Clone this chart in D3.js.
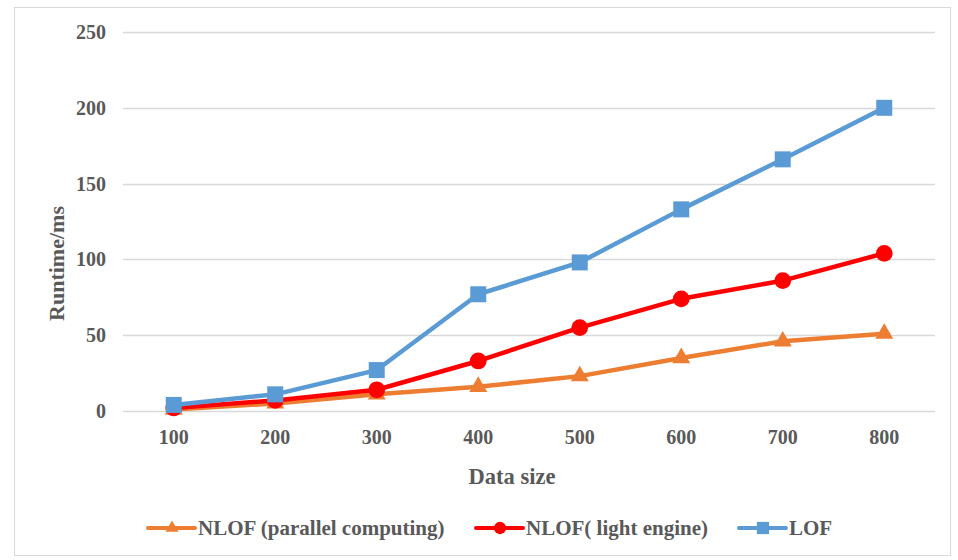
<!DOCTYPE html>
<html><head><meta charset="utf-8">
<script src="https://cdn.jsdelivr.net/npm/d3@7"></script>
<style>body{margin:0;background:#fff}svg{display:block}</style>
</head><body>
<svg id="chart" width="958" height="560"></svg>
<script>
const categories = ["100","200","300","400","500","600","700","800"];
const nlofParallel = [1, 5, 11, 16, 23, 35, 46, 51];
const nlofLight = [2, 7, 14, 33, 55, 74, 86, 104];
const lof = [4, 11, 27, 77, 98, 133, 166, 200];
const yTicks = [0, 50, 100, 150, 200, 250];
const seriesNames = ["NLOF (parallel computing)", "NLOF( light engine)", "LOF"];

(function () {
const svg = d3.select("#chart");
const font = "'Liberation Serif', 'Times New Roman', serif";
const textColor = "#595959";

svg.append("rect").attr("x", 14.5).attr("y", 7.5).attr("width", 936).attr("height", 548)
  .attr("fill", "#fff").attr("stroke", "#D9D9D9");

const pLeft = 123, pRight = 935, pTop = 32, pBottom = 411;
const x = d3.scaleBand().domain(categories).range([pLeft, pRight]);
const y = d3.scaleLinear().domain([0, 250]).range([pBottom, pTop]);
const cx = c => x(c) + x.bandwidth() / 2;

// gridlines
svg.append("g").selectAll("line").data(yTicks).join("line")
  .attr("x1", pLeft).attr("x2", pRight)
  .attr("y1", d => Math.round(y(d)) + 0.5).attr("y2", d => Math.round(y(d)) + 0.5)
  .attr("stroke", "#D9D9D9").attr("stroke-width", 1.3);

// y axis
const yAxis = svg.append("g").attr("transform", `translate(${pLeft},0)`)
  .call(d3.axisLeft(y).tickValues(yTicks).tickSize(0).tickPadding(17));
yAxis.select(".domain").remove();
yAxis.selectAll("text").attr("font-family", font).attr("font-size", 20).attr("font-weight", "bold").attr("fill", textColor);

// x axis
const xAxis = svg.append("g").attr("transform", `translate(0,${pBottom})`)
  .call(d3.axisBottom(x).tickSize(0).tickPadding(19));
xAxis.select(".domain").remove();
xAxis.selectAll("text").attr("font-family", font).attr("font-size", 20).attr("font-weight", "bold").attr("fill", textColor);

// axis titles
svg.append("text").attr("x", (pLeft + pRight) / 2 - 17).attr("y", 484).attr("text-anchor", "middle")
  .attr("font-family", font).attr("font-size", 22.5).attr("font-weight", "bold").attr("fill", textColor)
  .text("Data size");
svg.append("text").attr("transform", `translate(64,${(pTop + pBottom) / 2 + 42}) rotate(-90)`).attr("text-anchor", "middle")
  .attr("font-family", font).attr("font-size", 22).attr("font-weight", "bold").attr("fill", textColor)
  .text("Runtime/ms");

const series = [
  {name: seriesNames[0], values: nlofParallel, color: "#ED7D31", symbol: d3.symbolTriangle, size: 140, lsize: 75},
  {name: seriesNames[1], values: nlofLight, color: "#FF0000", symbol: d3.symbolCircle, size: 220, lsize: 120},
  {name: seriesNames[2], values: lof, color: "#5B9BD5", symbol: d3.symbolSquare, size: 256, lsize: 150}
];

const line = d3.line().x((d, i) => cx(categories[i])).y(d => y(d));

series.forEach(s => {
  svg.append("path").datum(s.values).attr("d", line).attr("fill", "none")
    .attr("stroke", s.color).attr("stroke-width", 4.5).attr("stroke-linejoin", "round").attr("stroke-linecap", "round");
  svg.append("g").selectAll("path").data(s.values).join("path")
    .attr("transform", (d, i) => `translate(${cx(categories[i])},${y(d)})`)
    .attr("d", d3.symbol().type(s.symbol).size(s.size)).attr("fill", s.color);
});

// legend
const legendX = [148, 476, 739];
const legendY = 528;
series.forEach((s, i) => {
  const g = svg.append("g").attr("transform", `translate(${legendX[i]},${legendY})`);
  g.append("line").attr("x1", 0).attr("x2", 47).attr("y1", 0).attr("y2", 0)
    .attr("stroke", s.color).attr("stroke-width", 4).attr("stroke-linecap", "round");
  g.append("path").attr("transform", "translate(24,0)")
    .attr("d", d3.symbol().type(s.symbol).size(s.lsize)).attr("fill", s.color);
  g.append("text").attr("x", 50).attr("y", 7).attr("font-family", font).attr("font-size", 21)
    .attr("font-weight", "bold").attr("fill", textColor).text(s.name);
});
})();
</script>
</body></html>
